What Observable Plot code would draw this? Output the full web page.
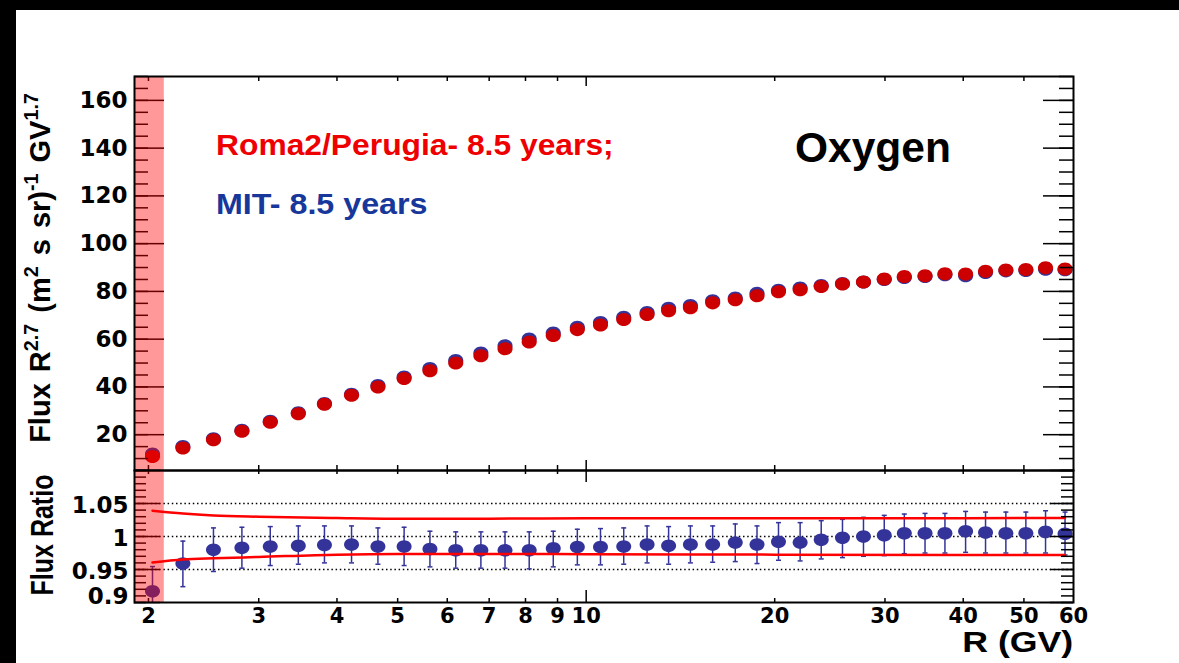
<!DOCTYPE html>
<html><head><meta charset="utf-8">
<script src="https://cdn.jsdelivr.net/npm/d3@7"></script>
<script src="https://cdn.jsdelivr.net/npm/@observablehq/plot@0.6"></script>
<style>
body{margin:0;background:#fff;}
#wrap{position:relative;width:1179px;height:663px;overflow:hidden;background:#fff;font-family:"Liberation Sans",Arial,sans-serif;font-weight:bold;}
.abs{position:absolute;white-space:nowrap;line-height:1;}
.abs sup{font-size:0.68em;position:relative;top:-0.62em;vertical-align:baseline;}
#wrap svg{position:absolute;left:0;overflow:visible;}
</style></head><body>
<div id="wrap">
  <div class="abs" style="left:0;top:0;width:16px;height:663px;background:#000"></div>
  <div class="abs" style="left:0;top:0;width:1179px;height:10px;background:#000"></div>
</div>
<script>
// ---------- data ----------
const rigidity = [2.03, 2.27, 2.54, 2.82, 3.13, 3.47, 3.82, 4.22, 4.65, 5.12, 5.63, 6.19, 6.79, 7.42, 8.11, 8.86, 9.68, 10.54, 11.48, 12.51, 13.54, 14.67, 15.92, 17.30, 18.74, 20.28, 21.96, 23.73, 25.66, 27.72, 29.92, 32.21, 34.76, 37.40, 40.35, 43.42, 46.79, 50.36, 54.14, 58.16];
const fluxRoma = [10.9, 14.4, 17.9, 21.4, 25.2, 28.8, 32.7, 36.5, 40.0, 43.5, 46.8, 50.0, 53.1, 56.0, 58.8, 61.5, 64.0, 65.9, 68.2, 70.3, 71.9, 73.2, 75.2, 76.5, 78.2, 79.9, 80.7, 82.1, 83.1, 83.9, 85.2, 86.2, 86.6, 87.4, 87.3, 88.4, 89.0, 89.2, 89.9, 89.4];
const fluxMIT = [11.9, 15.0, 18.3, 21.8, 25.6, 29.2, 33.1, 36.9, 40.6, 44.2, 47.7, 51.1, 54.2, 57.2, 60.1, 62.6, 65.0, 67.0, 69.2, 71.2, 72.9, 74.1, 76.1, 77.2, 79.2, 80.5, 81.4, 82.5, 83.3, 83.9, 85.0, 85.8, 86.2, 87.0, 86.6, 87.9, 88.6, 88.8, 89.3, 89.1];
const ratio = [0.917, 0.959, 0.980, 0.983, 0.985, 0.986, 0.987, 0.988, 0.985, 0.985, 0.981, 0.979, 0.979, 0.979, 0.979, 0.982, 0.984, 0.984, 0.985, 0.988, 0.986, 0.988, 0.988, 0.991, 0.988, 0.992, 0.991, 0.995, 0.998, 1.000, 1.002, 1.005, 1.005, 1.005, 1.008, 1.006, 1.005, 1.005, 1.007, 1.004];
const ratioLo = [0.880, 0.924, 0.947, 0.952, 0.956, 0.958, 0.960, 0.960, 0.958, 0.956, 0.954, 0.952, 0.952, 0.952, 0.951, 0.954, 0.957, 0.957, 0.958, 0.960, 0.958, 0.960, 0.961, 0.962, 0.959, 0.964, 0.963, 0.966, 0.968, 0.970, 0.971, 0.974, 0.975, 0.975, 0.976, 0.975, 0.975, 0.975, 0.975, 0.972];
const ratioHi = [0.9545, 0.993, 1.013, 1.014, 1.015, 1.016, 1.016, 1.016, 1.013, 1.014, 1.008, 1.007, 1.007, 1.007, 1.007, 1.008, 1.011, 1.012, 1.013, 1.016, 1.015, 1.016, 1.016, 1.019, 1.016, 1.021, 1.021, 1.024, 1.026, 1.029, 1.032, 1.034, 1.035, 1.035, 1.038, 1.037, 1.037, 1.037, 1.039, 1.037];
// systematic band (red lines)
const bandR = [2.03, 2.27, 2.54, 3.0, 4.0, 5.0, 7.0, 10, 20, 40, 58.16];
const bandUp = [1.039, 1.0348, 1.032, 1.030, 1.028, 1.027, 1.027, 1.0275, 1.0277, 1.0278, 1.028];
const bandLow = [0.9606, 0.965, 0.967, 0.969, 0.9725, 0.9735, 0.9735, 0.9732, 0.9725, 0.972, 0.9718];
// excluded low-rigidity region
const cutRange = [1.9, 2.12];
// ticks / labels
const xDomain = [1.9, 60];
const xTickLabels = [2, 3, 4, 5, 6, 7, 8, 9, 10, 20, 30, 40, 50, 60];
const xMinorTicks = [2, 3, 4, 5, 6, 7, 8, 9, 20, 30, 40, 50];
const xMajorTicks = [10];
const yTopDomain = [5, 170];
const yTopLabels = [20, 40, 60, 80, 100, 120, 140, 160];
const yTopMinor = d3.range(5, 171, 5);
const yBotDomain = [0.9, 1.1];
const yBotLabels = [1.05, 1, 0.95];
const yBotMajor = [0.9, 0.95, 1, 1.05, 1.1];
const yBotMinor = d3.range(90, 111, 1).map(v => v / 100);
const gridRatio = [0.95, 1, 1.05];

const points = rigidity.map((R, i) => ({R, roma: fluxRoma[i], mit: fluxMIT[i], ratio: ratio[i], lo: ratioLo[i], hi: ratioHi[i]}));
const band = bandR.map((R, i) => ({R, up: bandUp[i], low: bandLow[i]}));

// ---------- helpers ----------
function ellipse(sx, sy) {
  return {draw(ctx, size) {
    const r = Math.sqrt(size / Math.PI), a = r * sx, b = r * sy, k = 0.5523;
    ctx.moveTo(a, 0);
    ctx.bezierCurveTo(a, b * k, a * k, b, 0, b);
    ctx.bezierCurveTo(-a * k, b, -a, b * k, -a, 0);
    ctx.bezierCurveTo(-a, -b * k, -a * k, -b, 0, -b);
    ctx.bezierCurveTo(a * k, -b, a, -b * k, a, 0);
    ctx.closePath();
  }};
}
const capSymbol = {draw(ctx) { ctx.moveTo(-2.5, 0); ctx.lineTo(2.5, 0); }};

const W = 1179, ML = 134, MR = 106;
const IW = W - ML - MR;           // inner width 939
const topH = 470, topMT = 76, topIH = topH - topMT;  // 394
const botH = 193, botMB = 61, botIH = botH - botMB;  // 132
const tickFont = "DejaVu Sans";
const wrap = document.getElementById("wrap");

function xTicks(ih, minorLen, majorLen) {
  return [
    Plot.tickX(xMinorTicks, {x: d => d, insetBottom: ih - minorLen, stroke: "#000", strokeWidth: 1.5}),
    Plot.tickX(xMajorTicks, {x: d => d, insetBottom: ih - majorLen, stroke: "#000", strokeWidth: 1.5}),
    Plot.tickX(xMinorTicks, {x: d => d, insetTop: ih - minorLen, stroke: "#000", strokeWidth: 1.5}),
    Plot.tickX(xMajorTicks, {x: d => d, insetTop: ih - majorLen, stroke: "#000", strokeWidth: 1.5})
  ];
}
function yTicks(major, minor, lenMajL, lenMajR, lenMin) {
  return [
    Plot.tickY(major, {y: d => d, insetRight: IW - lenMajL, stroke: "#000", strokeWidth: 1.5}),
    Plot.tickY(minor, {y: d => d, insetRight: IW - lenMin, stroke: "#000", strokeWidth: 1.5}),
    Plot.tickY(major, {y: d => d, insetLeft: IW - lenMajR, stroke: "#000", strokeWidth: 1.5}),
    Plot.tickY(minor, {y: d => d, insetLeft: IW - lenMin, stroke: "#000", strokeWidth: 1.5})
  ];
}

// ---------- top panel ----------
const topPlot = Plot.plot({
  width: W, height: topH,
  marginLeft: ML, marginRight: MR, marginTop: topMT, marginBottom: 0,
  style: {background: "none", overflow: "visible"},
  x: {type: "log", domain: xDomain, axis: null},
  y: {domain: yTopDomain, axis: null},
  marks: [
    Plot.dot(points, {x: "R", y: "mit", r: 7, symbol: ellipse(1.08, 0.93), fill: "#333399"}),
    Plot.dot(points, {x: "R", y: "roma", r: 7, symbol: ellipse(1.08, 0.93), fill: "#cc0000"}),
    ...xTicks(topIH, 5, 10),
    ...yTicks(yTopLabels, yTopMinor, 30, 30, 14),
    Plot.rect([cutRange], {x1: d => d[0], x2: d => d[1], fill: "#ff0000", fillOpacity: 0.4}),
    Plot.frame({stroke: "#000", strokeWidth: 2}),
    Plot.text(yTopLabels, {y: d => d, frameAnchor: "left", textAnchor: "end", dx: -7, text: d => String(d),
      fontSize: 23, fontWeight: "bold", fontFamily: tickFont, fill: "#000", lineAnchor: "middle"})
  ]
});
topPlot.style.top = "0px";
wrap.appendChild(topPlot);

// ---------- bottom panel ----------
const botPlot = Plot.plot({
  width: W, height: botH,
  marginLeft: ML, marginRight: MR, marginTop: 0, marginBottom: botMB,
  style: {background: "none", overflow: "visible"},
  x: {type: "log", domain: xDomain, axis: null},
  y: {domain: yBotDomain, axis: null},
  marks: [
    Plot.ruleY(gridRatio, {stroke: "#000", strokeWidth: 1.5, strokeDasharray: "1.5,2.7"}),
    Plot.ruleX(points, {x: "R", y1: "lo", y2: "hi", stroke: "#333399", strokeWidth: 1.5, clip: true}),
    Plot.dot(points.filter(d => d.lo > 0.9), {x: "R", y: "lo", symbol: capSymbol, r: 2, stroke: "#333399", strokeWidth: 1.5}),
    Plot.dot(points, {x: "R", y: "hi", symbol: capSymbol, r: 2, stroke: "#333399", strokeWidth: 1.5}),
    Plot.dot(points, {x: "R", y: "ratio", r: 6.8, symbol: ellipse(1.1, 0.92), fill: "#333399"}),
    Plot.line(band, {x: "R", y: "up", stroke: "#ff0000", strokeWidth: 2.5, curve: "monotone-x"}),
    Plot.line(band, {x: "R", y: "low", stroke: "#ff0000", strokeWidth: 2.5, curve: "monotone-x"}),
    ...xTicks(botIH, 4, 12),
    ...yTicks(yBotMajor, yBotMinor, 26, 23, 12),
    Plot.rect([cutRange], {x1: d => d[0], x2: d => d[1], fill: "#ff0000", fillOpacity: 0.4}),
    Plot.frame({stroke: "#000", strokeWidth: 2}),
    Plot.text(yBotLabels, {y: d => d, frameAnchor: "left", textAnchor: "end", dx: -6, dy: 2, text: d => String(d),
      fontSize: 23, fontWeight: "bold", fontFamily: tickFont, fill: "#000", lineAnchor: "middle"}),
    Plot.text([0.9], {y: d => d, frameAnchor: "left", textAnchor: "end", dx: -6, dy: -6, text: d => String(d),
      fontSize: 23, fontWeight: "bold", fontFamily: tickFont, fill: "#000", lineAnchor: "middle"}),
    Plot.text(xTickLabels, {x: d => d, frameAnchor: "bottom", dy: 13.5, text: d => String(d),
      fontSize: 21, fontWeight: "bold", fontFamily: tickFont, fill: "#000", lineAnchor: "middle"})
  ]
});
botPlot.style.top = "470px";
wrap.appendChild(botPlot);

// ---------- titles & legend ----------
function addDiv(html, css) {
  const d = document.createElement("div");
  d.className = "abs";
  d.innerHTML = html;
  d.style.cssText += css;
  wrap.appendChild(d);
  return d;
}
addDiv("Roma2/Perugia- 8.5 years;", "left:216px;top:130px;font-size:30px;color:#ee0000;transform:scaleX(1.06);transform-origin:left center;");
addDiv("MIT- 8.5 years", "left:216px;top:189px;font-size:30px;color:#17379b;transform:scaleX(1.075);transform-origin:left center;");
addDiv("Oxygen", "left:795px;top:127px;font-size:42.5px;color:#000;");
addDiv("R (GV)", "right:106px;top:631px;font-size:29px;line-height:0.78;color:#000;transform:scaleX(1.23);transform-origin:right center;");
addDiv("Flux Ratio", "left:42.5px;top:535px;font-size:25px;color:#000;transform:translate(-50%,-50%) rotate(-90deg) scaleY(1.23);");
addDiv("Flux R<sup>2.7</sup> (m<sup>2</sup> s sr)<sup>-1</sup> GV<sup>1.7</sup>", "left:40px;top:268px;font-size:29px;color:#000;word-spacing:3px;transform:translate(-50%,-50%) rotate(-90deg);");
</script>
</body></html>
